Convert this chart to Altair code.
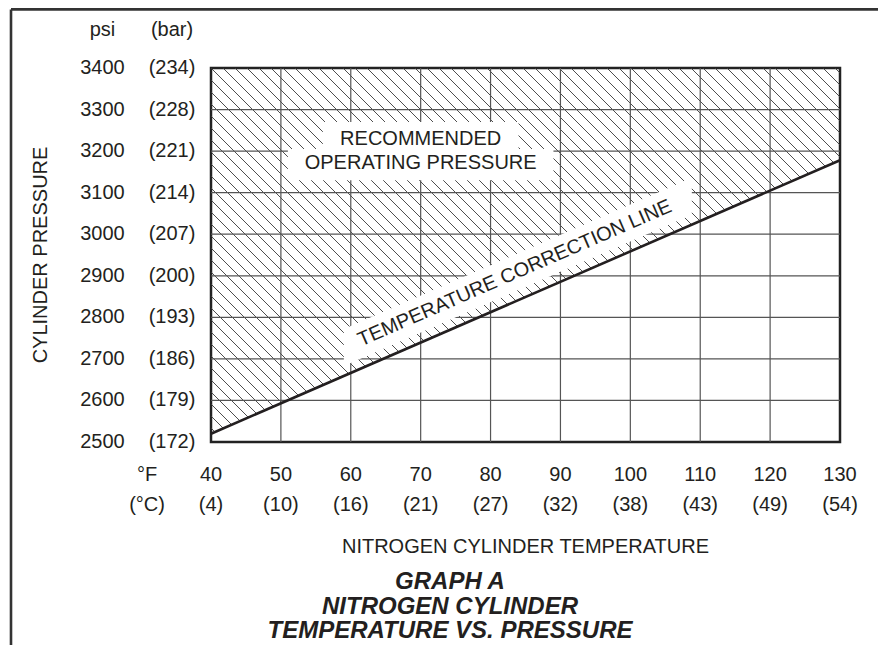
import altair as alt
import pandas as pd
import numpy as np

# ---- data ----
temps_f = [40, 50, 60, 70, 80, 90, 100, 110, 120, 130]
temps_c = ["(4)", "(10)", "(16)", "(21)", "(27)", "(32)", "(38)", "(43)", "(49)", "(54)"]
psi = [2500, 2600, 2700, 2800, 2900, 3000, 3100, 3200, 3300, 3400]
bar = ["(172)", "(179)", "(186)", "(193)", "(200)", "(207)", "(214)", "(221)", "(228)", "(234)"]
line_temp = [40, 130]
line_psi = [2520, 3178]

# knockout boxes behind the region label (temperature / pressure units)
box_t = [56, 51]
box_t2 = [84, 89]
box_p = [3200, 3130]
box_p2 = [3270, 3205]
region_lines = ["RECOMMENDED", "OPERATING PRESSURE"]
region_t = [70, 70]
region_p = [3229, 3171]
corr_label = "TEMPERATURE CORRECTION LINE"
corr_t = 83.8
corr_p = 2893
band_t = [59, 108.8]
title_lines = ["GRAPH A", "NITROGEN CYLINDER", "TEMPERATURE VS. PRESSURE"]

# ---- layout / style ----
W, H = 629, 374
T0, T1 = temps_f[0], temps_f[-1]
P0, P1 = psi[0], psi[-1]
FONT = "Liberation Sans"
INK = "#231f20"

xs = alt.Scale(domain=[T0, T1], nice=False, zero=False)
ys = alt.Scale(domain=[P0, P1], nice=False, zero=False)


def line_p(t):
    return line_psi[0] + (np.asarray(t) - line_temp[0]) * (line_psi[1] - line_psi[0]) / (line_temp[1] - line_temp[0])


# ---- hatch lines (45 degrees in screen space), above correction line ----
YL0 = (P1 - line_psi[0]) / (P1 - P0) * H
YL1 = (P1 - line_psi[1]) / (P1 - P0) * H
slope = (YL0 - YL1) / W
spacing = 12
rows = []
k_min = -int(np.floor(YL0 / spacing))
k_max = int(np.floor(W / spacing))
for k in range(k_min, k_max + 1):
    X0 = k * spacing
    if X0 >= 0:
        sx, sy = X0, 0.0
    else:
        sx, sy = 0.0, -X0
    xi = (YL0 + X0) / (1 + slope)
    if xi > W:
        ex, ey = W, W - X0
    else:
        ex, ey = xi, xi - X0
    if ex <= sx:
        continue
    rows.append({
        "t": T0 + sx / W * (T1 - T0), "p": P1 - sy / H * (P1 - P0),
        "t2": T0 + ex / W * (T1 - T0), "p2": P1 - ey / H * (P1 - P0),
    })
hatch_df = pd.DataFrame(rows)

hatch = alt.Chart(hatch_df).mark_rule(color="#3a3a3a", strokeWidth=0.9).encode(
    x=alt.X("t:Q", scale=xs, axis=None),
    y=alt.Y("p:Q", scale=ys, axis=None),
    x2="t2:Q", y2="p2:Q",
)

vgrid = alt.Chart(pd.DataFrame({"t": temps_f[1:-1]})).mark_rule(
    color="#555555", strokeWidth=1.2
).encode(x=alt.X("t:Q", scale=xs, axis=None))

hgrid = alt.Chart(pd.DataFrame({"p": psi[1:-1]})).mark_rule(
    color="#555555", strokeWidth=1.2
).encode(y=alt.Y("p:Q", scale=ys, axis=None))

boxes = alt.Chart(pd.DataFrame({"t": box_t, "t2": box_t2, "p": box_p, "p2": box_p2})).mark_rect(
    color="white"
).encode(
    x=alt.X("t:Q", scale=xs, axis=None), x2="t2:Q",
    y=alt.Y("p:Q", scale=ys, axis=None), y2="p2:Q",
)

band_df = pd.DataFrame({"t": band_t, "lo": line_p(band_t) + 24, "hi": line_p(band_t) + 113})
band = alt.Chart(band_df).mark_area(color="white", opacity=1).encode(
    x=alt.X("t:Q", scale=xs, axis=None),
    y=alt.Y("lo:Q", scale=ys, axis=None), y2="hi:Q",
)

corr = alt.Chart(pd.DataFrame({"t": line_temp, "p": line_psi})).mark_line(
    color=INK, strokeWidth=2.6
).encode(
    x=alt.X("t:Q", scale=xs, axis=None),
    y=alt.Y("p:Q", scale=ys, axis=None),
)

region_txt = alt.Chart(pd.DataFrame({"t": region_t, "p": region_p, "s": region_lines})).mark_text(
    font=FONT, fontSize=20, color=INK, align="center", baseline="middle"
).encode(
    x=alt.X("t:Q", scale=xs, axis=None),
    y=alt.Y("p:Q", scale=ys, axis=None),
    text="s:N",
)

angle = float(np.degrees(np.arctan((YL0 - YL1) / W)))
corr_txt = alt.Chart(pd.DataFrame({"t": [corr_t], "p": [corr_p], "s": [corr_label]})).mark_text(
    font=FONT, fontSize=20, color=INK, align="center", baseline="alphabetic", angle=360 - angle
).encode(
    x=alt.X("t:Q", scale=xs, axis=None),
    y=alt.Y("p:Q", scale=ys, axis=None),
    text="s:N",
)

# tick labels
ylab_df = pd.DataFrame({"p": psi, "psi": [str(v) for v in psi], "bar": bar})
psi_lab = alt.Chart(ylab_df).mark_text(
    font=FONT, fontSize=20, color=INK, align="center", baseline="middle"
).encode(y=alt.Y("p:Q", scale=ys, axis=None), x=alt.value(-108.5), text="psi:N")
bar_lab = alt.Chart(ylab_df).mark_text(
    font=FONT, fontSize=20, color=INK, align="center", baseline="middle"
).encode(y=alt.Y("p:Q", scale=ys, axis=None), x=alt.value(-39), text="bar:N")

xlab_df = pd.DataFrame({"t": temps_f, "f": [str(v) for v in temps_f], "c": temps_c})
f_lab = alt.Chart(xlab_df).mark_text(
    font=FONT, fontSize=20, color=INK, align="center", baseline="middle"
).encode(x=alt.X("t:Q", scale=xs, axis=None), y=alt.value(407), text="f:N")
c_lab = alt.Chart(xlab_df).mark_text(
    font=FONT, fontSize=20, color=INK, align="center", baseline="middle"
).encode(x=alt.X("t:Q", scale=xs, axis=None), y=alt.value(437), text="c:N")

one = pd.DataFrame({"a": [0]})


def label(txt, x, y, **kw):
    opts = dict(font=FONT, fontSize=20, color=INK, align="center", baseline="middle")
    opts.update(kw)
    return alt.Chart(one).mark_text(**opts).encode(
        x=alt.value(x), y=alt.value(y), text=alt.value(txt)
    )


headers = [
    label("psi", -108.5, -38),
    label("(bar)", -39, -38),
    label("°F", -64, 407),
    label("(°C)", -64, 437),
    label("NITROGEN CYLINDER TEMPERATURE", W / 2, 479),
    label("CYLINDER PRESSURE", -170, H / 2, angle=270),
]
titles = [
    label(s, 239, 514 + i * 24.5, fontSize=24, fontWeight="bold", fontStyle="italic")
    for i, s in enumerate(title_lines)
]

frame_top = alt.Chart(one).mark_rule(color="#333333", strokeWidth=2.6).encode(
    x=alt.value(-200), x2=alt.value(675), y=alt.value(-58.6)
)
frame_left = alt.Chart(one).mark_rule(color="#333333", strokeWidth=2.6).encode(
    x=alt.value(-200), y=alt.value(-58.6), y2=alt.value(590)
)

chart = alt.layer(
    hatch, vgrid, hgrid, boxes, band, corr, region_txt, corr_txt,
    psi_lab, bar_lab, f_lab, c_lab, *headers, *titles, frame_top, frame_left
).properties(
    width=W, height=H,
    autosize=alt.AutoSizeParams(type="none"),
    padding={"left": 203, "top": 60, "right": 38, "bottom": 203},
    background="white",
).configure_view(stroke="#222222", strokeWidth=2.5)

chart.save("out.html", embed_options={"renderer": "svg", "actions": False})
